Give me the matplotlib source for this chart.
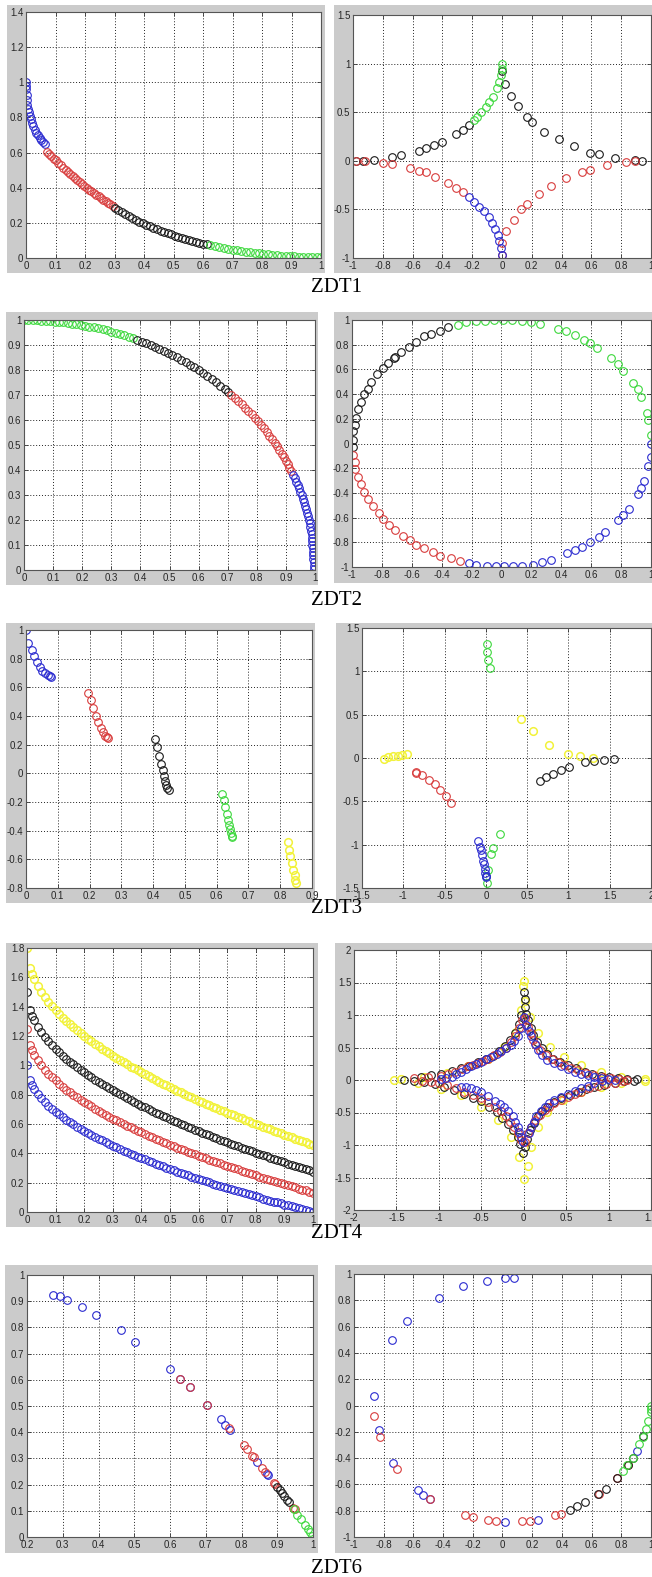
import matplotlib
matplotlib.use('Agg')
from matplotlib import pyplot as plt
from matplotlib.patches import Rectangle
from matplotlib.ticker import FixedLocator, FuncFormatter
import numpy as np

W, H = 652, 1577

BLUE = '#2b2bd0'
RED = '#d83c3c'
GREEN = '#3cd83c'
BLACK = '#1a1a1a'
YELLOW = '#f2f23a'
GRAY = '#cbcbcb'

# ---- ZDT1 ----
zdt1_l_blue_x = [0.0, 0.0, 0.001, 0.002, 0.003, 0.005, 0.007, 0.010, 0.013, 0.017, 0.021,
                 0.025, 0.030, 0.035, 0.040, 0.046, 0.052, 0.058, 0.064]
zdt1_l_blue_y = [1.0, 0.98, 0.96, 0.93, 0.90, 0.87, 0.85, 0.83, 0.81, 0.79, 0.77,
                 0.75, 0.73, 0.71, 0.70, 0.685, 0.67, 0.66, 0.65]
zdt1_l_red_x = [0.070, 0.078, 0.086, 0.094, 0.102, 0.110, 0.118, 0.126, 0.134, 0.142,
                0.150, 0.158, 0.166, 0.174, 0.182, 0.190, 0.198, 0.206, 0.214, 0.222,
                0.230, 0.238, 0.246, 0.254, 0.262, 0.270, 0.278, 0.286, 0.294]
zdt1_l_red_y = [0.605, 0.592, 0.578, 0.566, 0.555, 0.541, 0.528, 0.515, 0.502, 0.490,
                0.478, 0.466, 0.455, 0.443, 0.432, 0.421, 0.410, 0.400, 0.389, 0.379,
                0.369, 0.360, 0.350, 0.341, 0.332, 0.323, 0.315, 0.306, 0.298]
zdt1_l_black_x = [0.300, 0.312, 0.324, 0.336, 0.348, 0.360, 0.372, 0.384, 0.396, 0.408,
                  0.420, 0.432, 0.444, 0.456, 0.468, 0.480, 0.492, 0.504, 0.516, 0.528,
                  0.540, 0.552, 0.564, 0.576, 0.588, 0.600, 0.612]
zdt1_l_black_y = [0.285, 0.272, 0.260, 0.249, 0.238, 0.227, 0.217, 0.207, 0.198, 0.189,
                  0.180, 0.172, 0.164, 0.156, 0.148, 0.141, 0.134, 0.127, 0.121, 0.114,
                  0.108, 0.102, 0.097, 0.091, 0.086, 0.081, 0.077]
zdt1_l_green_x = [0.625, 0.640, 0.655, 0.670, 0.685, 0.700, 0.715, 0.730, 0.745, 0.760,
                  0.775, 0.790, 0.805, 0.820, 0.835, 0.850, 0.865, 0.880, 0.895, 0.910,
                  0.925, 0.940, 0.955, 0.970, 0.985, 1.0]
zdt1_l_green_y = [0.073, 0.068, 0.063, 0.058, 0.053, 0.048, 0.044, 0.040, 0.036, 0.033,
                  0.029, 0.026, 0.023, 0.021, 0.018, 0.016, 0.014, 0.012, 0.011, 0.009,
                  0.008, 0.007, 0.006, 0.005, 0.004, 0.004]

zdt1_r_black_x = [-0.98, -0.93, -0.86, -0.74, -0.68, -0.56, -0.51, -0.455, -0.40, -0.31,
                  -0.26, -0.22, 0.0, 0.02, 0.06, 0.11, 0.17, 0.20, 0.285, 0.38, 0.48,
                  0.59, 0.65, 0.76, 0.89, 0.94]
zdt1_r_black_y = [0.0, 0.0, 0.01, 0.04, 0.06, 0.10, 0.13, 0.16, 0.195, 0.28,
                  0.32, 0.37, 0.92, 0.79, 0.67, 0.56, 0.45, 0.40, 0.30, 0.22, 0.15,
                  0.085, 0.065, 0.03, 0.005, 0.0]
zdt1_r_red_x = [-0.98, -0.92, -0.80, -0.74, -0.62, -0.56, -0.51, -0.45, -0.36, -0.31,
                -0.265, 0.0, 0.03, 0.08, 0.13, 0.17, 0.245, 0.33, 0.43, 0.535, 0.59,
                0.705, 0.83, 0.89, 0.0]
zdt1_r_red_y = [0.0, 0.0, -0.02, -0.03, -0.07, -0.10, -0.12, -0.165, -0.23, -0.28,
                -0.32, -0.845, -0.725, -0.61, -0.495, -0.44, -0.345, -0.255, -0.175,
                -0.115, -0.09, -0.04, -0.015, 0.0, -0.97]
zdt1_r_green_x = [-0.19, -0.17, -0.14, -0.11, -0.085, -0.06, -0.035, -0.02, -0.01, 0.0, 0.0]
zdt1_r_green_y = [0.42, 0.45, 0.505, 0.55, 0.61, 0.66, 0.745, 0.815, 0.88, 0.94, 1.0]
zdt1_r_blue_x = [-0.22, -0.19, -0.155, -0.12, -0.09, -0.065, -0.045, -0.03, -0.02, -0.007, 0.0]
zdt1_r_blue_y = [-0.37, -0.42, -0.475, -0.52, -0.58, -0.64, -0.70, -0.76, -0.83, -0.90, -0.97]

# ---- ZDT2 ----
zdt2_l_green_x = [0.0, 0.015, 0.03, 0.045, 0.06, 0.075, 0.09, 0.105, 0.12, 0.135, 0.15,
                  0.165, 0.18, 0.195, 0.21, 0.225, 0.24, 0.255, 0.27, 0.285, 0.30, 0.315,
                  0.33, 0.345, 0.36, 0.375]
zdt2_l_green_y = [1.0, 1.0, 1.0, 0.999, 0.998, 0.997, 0.996, 0.994, 0.993, 0.991, 0.989,
                  0.986, 0.984, 0.981, 0.978, 0.974, 0.971, 0.967, 0.963, 0.959, 0.954,
                  0.949, 0.944, 0.939, 0.933, 0.927]
zdt2_l_black_x = [0.39, 0.405, 0.42, 0.435, 0.45, 0.465, 0.48, 0.495, 0.51, 0.525, 0.54,
                  0.555, 0.57, 0.585, 0.60, 0.615, 0.63, 0.645, 0.66, 0.675, 0.69, 0.70]
zdt2_l_black_y = [0.921, 0.914, 0.908, 0.900, 0.893, 0.885, 0.877, 0.869, 0.860, 0.851,
                  0.842, 0.832, 0.822, 0.811, 0.800, 0.789, 0.777, 0.764, 0.751, 0.738,
                  0.724, 0.714]
zdt2_l_red_x = [0.712, 0.724, 0.736, 0.748, 0.760, 0.771, 0.782, 0.793, 0.804, 0.814,
                0.824, 0.834, 0.843, 0.852, 0.861, 0.869, 0.877, 0.885, 0.892, 0.899,
                0.906, 0.912, 0.918]
zdt2_l_red_y = [0.702, 0.690, 0.677, 0.664, 0.650, 0.637, 0.623, 0.609, 0.595, 0.581,
                0.567, 0.552, 0.538, 0.523, 0.509, 0.495, 0.480, 0.466, 0.452, 0.438,
                0.423, 0.410, 0.396]
zdt2_l_blue_x = [0.924, 0.930, 0.935, 0.940, 0.945, 0.950, 0.954, 0.959, 0.963, 0.966,
                 0.970, 0.973, 0.976, 0.979, 0.982, 0.984, 0.986, 0.988, 0.989, 0.990,
                 0.991, 0.992, 0.993, 0.994, 0.994, 0.995, 0.995, 0.995]
zdt2_l_blue_y = [0.382, 0.368, 0.354, 0.340, 0.327, 0.313, 0.299, 0.285, 0.271, 0.257,
                 0.243, 0.229, 0.215, 0.201, 0.187, 0.172, 0.158, 0.144, 0.130, 0.116,
                 0.102, 0.088, 0.074, 0.060, 0.046, 0.032, 0.018, 0.004]

zdt2_r_black_x = [-0.995, -0.993, -0.99, -0.98, -0.97, -0.96, -0.94, -0.92, -0.89, -0.87,
                  -0.83, -0.79, -0.76, -0.72, -0.71, -0.67, -0.62, -0.57, -0.52, -0.47,
                  -0.41, -0.36]
zdt2_r_black_y = [-0.03, 0.03, 0.10, 0.15, 0.21, 0.28, 0.34, 0.40, 0.44, 0.50,
                  0.56, 0.61, 0.65, 0.69, 0.70, 0.74, 0.78, 0.82, 0.87, 0.89,
                  0.91, 0.94]
zdt2_r_green_x = [-0.29, -0.24, -0.17, -0.11, -0.05, 0.01, 0.07, 0.14, 0.20, 0.26, 0.38,
                  0.43, 0.49, 0.55, 0.59, 0.64, 0.73, 0.78, 0.81, 0.88, 0.91, 0.93,
                  0.97, 0.98, 1.0]
zdt2_r_green_y = [0.96, 0.98, 0.99, 0.99, 1.0, 1.0, 1.0, 0.99, 0.98, 0.97, 0.93,
                  0.91, 0.88, 0.84, 0.81, 0.77, 0.69, 0.64, 0.59, 0.49, 0.44, 0.38,
                  0.25, 0.19, 0.07]
zdt2_r_blue_x = [1.0, 1.0, 0.98, 0.95, 0.93, 0.91, 0.85, 0.81, 0.78, 0.69, 0.65, 0.59,
                 0.54, 0.49, 0.44, 0.33, 0.27, 0.21, 0.14, 0.08, 0.02, -0.04, -0.10,
                 -0.17, -0.22]
zdt2_r_blue_y = [0.0, -0.11, -0.18, -0.30, -0.36, -0.41, -0.53, -0.58, -0.62, -0.72,
                 -0.76, -0.80, -0.84, -0.86, -0.89, -0.94, -0.96, -0.98, -0.99, -0.99,
                 -0.99, -0.99, -0.99, -0.98, -0.97]
zdt2_r_red_x = [-0.28, -0.34, -0.41, -0.46, -0.52, -0.57, -0.61, -0.66, -0.71, -0.75,
                -0.79, -0.82, -0.86, -0.89, -0.92, -0.94, -0.96, -0.98, -0.98, -0.99]
zdt2_r_red_y = [-0.95, -0.93, -0.91, -0.88, -0.85, -0.82, -0.78, -0.75, -0.70, -0.66,
                -0.61, -0.56, -0.51, -0.45, -0.39, -0.33, -0.27, -0.21, -0.15, -0.09]

# ---- ZDT3 ----
zdt3_l_blue_x = [0.0, 0.007, 0.018, 0.026, 0.036, 0.044, 0.051, 0.060, 0.068, 0.076, 0.079]
zdt3_l_blue_y = [1.0, 0.908, 0.862, 0.82, 0.78, 0.745, 0.717, 0.70, 0.687, 0.676, 0.671]
zdt3_l_red_x = [0.196, 0.204, 0.212, 0.221, 0.228, 0.235, 0.242, 0.249, 0.254, 0.259]
zdt3_l_red_y = [0.56, 0.509, 0.455, 0.402, 0.355, 0.316, 0.286, 0.262, 0.251, 0.246]
zdt3_l_black_x = [0.407, 0.412, 0.418, 0.424, 0.43, 0.433, 0.437, 0.44, 0.445, 0.45]
zdt3_l_black_y = [0.239, 0.183, 0.123, 0.067, 0.021, -0.021, -0.056, -0.079, -0.102, -0.114]
zdt3_l_green_x = [0.617, 0.622, 0.627, 0.631, 0.635, 0.639, 0.642, 0.645, 0.648, 0.649]
zdt3_l_green_y = [-0.142, -0.188, -0.235, -0.281, -0.323, -0.358, -0.388, -0.416, -0.434, -0.444]
zdt3_l_yellow_x = [0.824, 0.828, 0.832, 0.836, 0.84, 0.845, 0.848, 0.85]
zdt3_l_yellow_y = [-0.481, -0.532, -0.578, -0.625, -0.672, -0.706, -0.741, -0.765]

zdt3_r_green_x = [0.01, 0.016, 0.03, 0.05, 0.17, 0.09, 0.06, 0.03, 0.0, 0.01]
zdt3_r_green_y = [1.32, 1.22, 1.13, 1.04, -0.88, -1.04, -1.11, -1.29, -1.36, -1.44]
zdt3_r_blue_x = [-0.10, -0.07, -0.06, -0.045, -0.03, -0.025, -0.016, -0.01, -0.004, 0.0]
zdt3_r_blue_y = [-0.96, -1.03, -1.06, -1.12, -1.19, -1.22, -1.28, -1.33, -1.36, -1.37]
zdt3_r_red_x = [-0.85, -0.85, -0.77, -0.69, -0.62, -0.56, -0.48, -0.42]
zdt3_r_red_y = [-0.16, -0.17, -0.20, -0.25, -0.30, -0.37, -0.44, -0.52]
zdt3_r_yellow_x = [-1.23, -1.18, -1.12, -1.06, -1.01, -0.96, 0.43, 0.57, 0.77, 1.0, 1.14, 1.30]
zdt3_r_yellow_y = [-0.01, 0.01, 0.02, 0.02, 0.04, 0.05, 0.45, 0.31, 0.15, 0.05, 0.02, 0.0]
zdt3_r_black_x = [0.65, 0.73, 0.81, 0.91, 1.01, 1.20, 1.31, 1.43, 1.55]
zdt3_r_black_y = [-0.27, -0.22, -0.18, -0.14, -0.10, -0.05, -0.03, -0.02, -0.01]

# ---- ZDT4 ----
zdt4_l_x = [0.0, 0.01, 0.0175, 0.025, 0.0375, 0.05, 0.0625, 0.075, 0.0875, 0.1, 0.1125,
            0.125, 0.1375, 0.15, 0.1625, 0.175, 0.1875, 0.2, 0.2125, 0.225, 0.2375,
            0.25, 0.2625, 0.275, 0.2875, 0.3, 0.3125, 0.325, 0.3375, 0.35, 0.3625,
            0.375, 0.3875, 0.4, 0.4125, 0.425, 0.4375, 0.45, 0.4625, 0.475, 0.4875,
            0.5, 0.5125, 0.525, 0.5375, 0.55, 0.5625, 0.575, 0.5875, 0.6, 0.6125,
            0.625, 0.6375, 0.65, 0.6625, 0.675, 0.6875, 0.7, 0.7125, 0.725, 0.7375,
            0.75, 0.7625, 0.775, 0.7875, 0.8, 0.8125, 0.825, 0.8375, 0.85, 0.8625,
            0.875, 0.8875, 0.9, 0.9125, 0.925, 0.9375, 0.95, 0.9625, 0.975, 0.9875, 1.0]
zdt4_l_blue_y = [1.0, 0.90, 0.868, 0.842, 0.806, 0.776, 0.75, 0.726, 0.704, 0.684, 0.665,
                 0.646, 0.629, 0.613, 0.597, 0.582, 0.567, 0.553, 0.539, 0.526, 0.513,
                 0.50, 0.488, 0.476, 0.464, 0.452, 0.441, 0.430, 0.419, 0.408, 0.398,
                 0.388, 0.378, 0.368, 0.358, 0.348, 0.339, 0.329, 0.320, 0.311, 0.302,
                 0.293, 0.284, 0.275, 0.267, 0.258, 0.25, 0.242, 0.234, 0.225, 0.217,
                 0.209, 0.202, 0.194, 0.186, 0.178, 0.171, 0.163, 0.156, 0.149, 0.141,
                 0.134, 0.127, 0.120, 0.113, 0.106, 0.099, 0.092, 0.085, 0.078, 0.071,
                 0.065, 0.058, 0.051, 0.045, 0.038, 0.032, 0.025, 0.019, 0.013, 0.006, 0.0]
zdt4_l_red_y = [1.25, 1.138, 1.102, 1.073, 1.034, 1.0, 0.971, 0.944, 0.919, 0.897, 0.875,
                0.854, 0.835, 0.817, 0.799, 0.783, 0.766, 0.750, 0.735, 0.720, 0.705,
                0.691, 0.677, 0.664, 0.651, 0.637, 0.625, 0.613, 0.601, 0.588, 0.577,
                0.566, 0.554, 0.543, 0.532, 0.521, 0.511, 0.500, 0.490, 0.480, 0.469,
                0.460, 0.450, 0.439, 0.430, 0.420, 0.412, 0.403, 0.393, 0.384, 0.375,
                0.366, 0.357, 0.349, 0.340, 0.331, 0.323, 0.314, 0.306, 0.299, 0.290,
                0.282, 0.274, 0.266, 0.258, 0.251, 0.242, 0.235, 0.227, 0.219, 0.212,
                0.205, 0.197, 0.189, 0.182, 0.174, 0.168, 0.160, 0.153, 0.147, 0.139, 0.132]
zdt4_l_black_y = [1.5, 1.378, 1.338, 1.306, 1.263, 1.226, 1.194, 1.164, 1.138, 1.113,
                  1.089, 1.066, 1.046, 1.026, 1.006, 0.988, 0.970, 0.953, 0.935, 0.919,
                  0.903, 0.888, 0.873, 0.858, 0.843, 0.829, 0.815, 0.802, 0.789, 0.775,
                  0.763, 0.750, 0.738, 0.726, 0.713, 0.701, 0.690, 0.678, 0.667, 0.656,
                  0.645, 0.634, 0.623, 0.612, 0.602, 0.591, 0.581, 0.572, 0.561, 0.551,
                  0.542, 0.531, 0.522, 0.513, 0.503, 0.493, 0.485, 0.475, 0.466, 0.458,
                  0.448, 0.439, 0.431, 0.422, 0.413, 0.405, 0.396, 0.388, 0.379, 0.371,
                  0.363, 0.355, 0.346, 0.338, 0.330, 0.322, 0.314, 0.306, 0.298, 0.291,
                  0.283, 0.275]
zdt4_l_yellow_y = [1.8, 1.666, 1.623, 1.588, 1.540, 1.5, 1.465, 1.432, 1.403, 1.376,
                   1.350, 1.325, 1.303, 1.281, 1.259, 1.239, 1.219, 1.2, 1.182, 1.164,
                   1.146, 1.129, 1.113, 1.097, 1.081, 1.065, 1.05, 1.035, 1.021, 1.006,
                   0.992, 0.979, 0.965, 0.952, 0.938, 0.925, 0.913, 0.9, 0.888, 0.876,
                   0.863, 0.851, 0.840, 0.827, 0.817, 0.805, 0.794, 0.783, 0.772, 0.76,
                   0.750, 0.739, 0.729, 0.719, 0.708, 0.697, 0.688, 0.677, 0.668, 0.658,
                   0.648, 0.638, 0.629, 0.619, 0.609, 0.601, 0.591, 0.582, 0.572, 0.563,
                   0.554, 0.546, 0.536, 0.527, 0.519, 0.509, 0.501, 0.492, 0.484, 0.476,
                   0.467, 0.458]

zdt4_r_yellow_x = [0.0, 0.02, 0.07, 0.17, 0.31, 0.48, 0.68, 0.91, 1.15, 1.43,
                   -1.53, -1.25, -0.98, -0.74, -0.50, -0.30, -0.15, -0.05, 0.0,
                   -1.45, -1.18, -0.90, -0.66, -0.42, -0.23, -0.09, -0.03, -0.01,
                   0.05, 0.09, 0.17, 0.28, 0.46, 0.68, 0.91, 1.15, 1.43, 1.57]
zdt4_r_yellow_y = [1.52, 1.22, 0.97, 0.72, 0.51, 0.36, 0.23, 0.12, 0.04, 0.01,
                   0.0, -0.04, -0.14, -0.23, -0.41, -0.62, -0.87, -1.18, -1.52,
                   0.01, 0.05, 0.11, 0.21, 0.33, 0.51, 0.74, 1.08, 1.44,
                   -1.33, -1.03, -0.72, -0.49, -0.31, -0.19, -0.10, -0.04, -0.02, 0.0]
# black star, arm by arm: upper right, lower left, lower right, upper left
zdt4_r_black_x = [0.0, 0.01, 0.02, 0.03, 0.05, 0.08, 0.11, 0.16, 0.21, 0.28, 0.35, 0.43,
                  0.52, 0.62, 0.72, 0.81, 0.91, 1.01, 1.11, 1.22, 1.33,
                  -1.41, -1.29, -1.17, -1.05, -0.94, -0.82, -0.70, -0.60, -0.50, -0.41,
                  -0.32, -0.25, -0.19, -0.13, -0.07, -0.04, -0.01,
                  0.02, 0.04, 0.07, 0.12, 0.17, 0.22, 0.28, 0.36, 0.44, 0.54, 0.64,
                  0.73, 0.83, 0.95, 1.07, 1.18, 1.30,
                  -1.21, -1.09, -0.97, -0.85, -0.74, -0.64, -0.54, -0.45, -0.36, -0.29,
                  -0.22, -0.16, -0.10, -0.06, -0.03]
zdt4_r_black_y = [1.36, 1.24, 1.13, 1.02, 0.92, 0.80, 0.69, 0.58, 0.49, 0.40, 0.33, 0.27,
                  0.23, 0.18, 0.13, 0.09, 0.06, 0.04, 0.03, 0.02, 0.01,
                  0.0, -0.01, -0.03, -0.06, -0.10, -0.15, -0.21, -0.27, -0.33, -0.41,
                  -0.49, -0.58, -0.67, -0.77, -0.87, -0.99, -1.12,
                  -1.03, -0.90, -0.77, -0.66, -0.56, -0.48, -0.41, -0.34, -0.28, -0.23,
                  -0.18, -0.14, -0.10, -0.07, -0.04, -0.02, -0.01,
                  0.05, 0.07, 0.10, 0.14, 0.18, 0.22, 0.27, 0.32, 0.37, 0.44,
                  0.52, 0.62, 0.72, 0.86, 1.0]
zdt4_r_red_x = [-1.29, -1.13, -0.97, -0.89, -0.81, -0.73, -0.66, -0.60, -0.54, -0.48,
                -0.42, -0.35, -0.28, -0.21, -0.15, -0.10, -0.05, -0.02,
                0.02, 0.05, 0.08, 0.11, 0.15, 0.19, 0.26, 0.33, 0.40, 0.48, 0.56,
                0.64, 0.73, 0.83, 0.93, 1.03, 1.12, 1.22,
                -1.20, -1.09, -1.0, -0.90, -0.80, -0.70, -0.60, -0.50, -0.42, -0.34,
                -0.27, -0.21, -0.16, -0.11, -0.07, -0.03,
                0.02, 0.05, 0.09, 0.13, 0.19, 0.25, 0.30, 0.36, 0.44, 0.52, 0.60,
                0.68, 0.77, 0.87, 0.97, 1.07, 1.17]
zdt4_r_red_y = [0.03, 0.04, 0.06, 0.09, 0.13, 0.17, 0.21, 0.23, 0.26, 0.29,
                0.33, 0.38, 0.43, 0.50, 0.58, 0.68, 0.80, 0.92,
                0.95, 0.82, 0.72, 0.62, 0.54, 0.46, 0.39, 0.33, 0.28, 0.23, 0.19,
                0.15, 0.11, 0.08, 0.05, 0.03, 0.02, 0.0,
                -0.01, -0.03, -0.05, -0.08, -0.13, -0.18, -0.23, -0.28, -0.34, -0.41,
                -0.48, -0.56, -0.64, -0.72, -0.82, -0.92,
                -0.95, -0.82, -0.72, -0.62, -0.54, -0.46, -0.41, -0.36, -0.31, -0.26,
                -0.22, -0.18, -0.13, -0.09, -0.06, -0.04, -0.02]
zdt4_r_blue_x = [0.0, -0.03, -0.07, -0.11, -0.15, -0.21, -0.27, -0.32, -0.38, -0.44,
                 -0.50, -0.56, -0.62, -0.68, -0.74, -0.80, -0.85, -0.91, -0.97,
                 0.03, 0.06, 0.09, 0.13, 0.17, 0.22, 0.28, 0.36, 0.44, 0.52, 0.60,
                 0.68, 0.76, 0.83, 0.91, 0.99, 1.07,
                 -0.74, -0.68, -0.62, -0.56, -0.50, -0.42, -0.34, -0.28, -0.23, -0.18,
                 -0.13, -0.10, -0.07, -0.05, -0.03, -0.01,
                 0.06, 0.09, 0.12, 0.15, 0.20, 0.25, 0.30, 0.36, 0.44, 0.52, 0.60,
                 0.68, 0.76, 0.83, 0.92]
zdt4_r_blue_y = [0.97, 0.80, 0.67, 0.60, 0.54, 0.49, 0.44, 0.40, 0.36, 0.32,
                 0.28, 0.25, 0.21, 0.17, 0.13, 0.09, 0.05, 0.03, 0.01,
                 0.85, 0.76, 0.67, 0.56, 0.46, 0.38, 0.31, 0.26, 0.21, 0.17, 0.13,
                 0.10, 0.08, 0.05, 0.03, 0.01, 0.0,
                 -0.10, -0.11, -0.13, -0.15, -0.18, -0.25, -0.33, -0.37, -0.41, -0.48,
                 -0.56, -0.64, -0.72, -0.80, -0.87, -0.95,
                 -0.82, -0.72, -0.64, -0.56, -0.48, -0.41, -0.36, -0.31, -0.26, -0.21,
                 -0.17, -0.13, -0.09, -0.05, -0.02]

# ---- ZDT6 ----
zdt6_l_blue_x = [0.274, 0.291, 0.312, 0.353, 0.393, 0.463, 0.502, 0.60, 0.629, 0.656,
                 0.703, 0.742, 0.755, 0.767, 0.842, 0.870, 0.875]
zdt6_l_blue_y = [0.925, 0.921, 0.906, 0.876, 0.847, 0.789, 0.745, 0.643, 0.603, 0.571,
                 0.505, 0.449, 0.429, 0.408, 0.287, 0.239, 0.235]
zdt6_l_red_x = [0.629, 0.656, 0.703, 0.764, 0.807, 0.814, 0.83, 0.834, 0.858, 0.867,
                0.89, 0.893, 0.944, 0.949]
zdt6_l_red_y = [0.603, 0.571, 0.505, 0.415, 0.35, 0.337, 0.311, 0.306, 0.264, 0.247,
                0.207, 0.203, 0.111, 0.105]
zdt6_l_black_x = [0.90, 0.907, 0.913, 0.919, 0.927, 0.934]
zdt6_l_black_y = [0.191, 0.179, 0.168, 0.158, 0.14, 0.133]
zdt6_l_green_x = [0.946, 0.956, 0.967, 0.977, 0.986, 0.993, 0.998]
zdt6_l_green_y = [0.105, 0.085, 0.07, 0.047, 0.031, 0.018, 0.005]

zdt6_r_blue_x = [-0.867, -0.835, -0.745, -0.736, -0.646, -0.568, -0.532, -0.489, -0.43,
                 -0.268, -0.106, 0.014, 0.077, 0.018, 0.239, 0.903]
zdt6_r_blue_y = [0.076, -0.19, 0.498, -0.437, 0.643, -0.645, -0.678, -0.712, 0.821,
                 0.905, 0.948, 0.966, 0.966, -0.887, -0.869, -0.346]
zdt6_r_red_x = [-0.865, -0.827, -0.712, -0.489, -0.25, -0.196, -0.095, -0.041, 0.133,
                0.182, 0.351, 0.396, 0.649, 0.773, 0.842]
zdt6_r_red_y = [-0.081, -0.239, -0.483, -0.712, -0.836, -0.851, -0.874, -0.882, -0.882,
                -0.882, -0.836, -0.823, -0.673, -0.551, -0.45]
zdt6_r_black_x = [0.453, 0.505, 0.556, 0.644, 0.694, 0.768, 0.847, 0.881, 0.948]
zdt6_r_black_y = [-0.798, -0.767, -0.737, -0.671, -0.635, -0.551, -0.45, -0.399, -0.234]
zdt6_r_green_x = [0.809, 0.84, 0.876, 0.921, 0.948, 0.966, 0.982, 0.998, 1.0, 1.0]
zdt6_r_green_y = [-0.50, -0.45, -0.399, -0.29, -0.239, -0.178, -0.119, -0.051, -0.025, 0.0]


fig = plt.figure(figsize=(W / 100, H / 100), dpi=100, facecolor='white')


def fmt(v, pos):
    return '%g' % (round(v, 6) + 0.0)


def panel(axbox, frame, xlim, xstep, ylim, ystep, series):
    # frame / axbox given as (left, right, top, bottom) in pixels
    fl, fr, ft, fb = frame
    fig.add_artist(Rectangle((fl / W, 1 - fb / H), (fr - fl) / W, (fb - ft) / H,
                             transform=fig.transFigure, facecolor=GRAY,
                             edgecolor='none', zorder=-5))
    l, r, t, b = axbox
    ax = fig.add_axes([l / W, 1 - b / H, (r - l) / W, (b - t) / H])
    for xs, ys, c in series:
        ax.plot(xs, ys, 'o', mfc='none', mec=c, ms=5.5,
                mew=1.1 if c == YELLOW else 0.8)
    ax.set_xlim(xlim)
    ax.set_ylim(ylim)
    ax.xaxis.set_major_locator(FixedLocator(np.arange(xlim[0], xlim[1] + xstep / 2, xstep)))
    ax.yaxis.set_major_locator(FixedLocator(np.arange(ylim[0], ylim[1] + ystep / 2, ystep)))
    ax.xaxis.set_major_formatter(FuncFormatter(fmt))
    ax.yaxis.set_major_formatter(FuncFormatter(fmt))
    ax.grid(True, color='#222222', linestyle=(0, (1, 2)), linewidth=0.7)
    ax.set_axisbelow(True)
    ax.tick_params(direction='in', length=3, width=0.6, top=True, right=True,
                   labelsize=7, labelcolor='#262626', pad=2, color='#333333')
    for lab in ax.get_xticklabels() + ax.get_yticklabels():
        lab.set_family('Liberation Sans')
    for s in ax.spines.values():
        s.set_color('#555555')
        s.set_linewidth(0.8)
    return ax


panel((26, 321, 12, 258), (7, 325, 5, 273), (0, 1), 0.1, (0, 1.4), 0.2,
      [(zdt1_l_blue_x, zdt1_l_blue_y, BLUE), (zdt1_l_red_x, zdt1_l_red_y, RED),
       (zdt1_l_black_x, zdt1_l_black_y, BLACK), (zdt1_l_green_x, zdt1_l_green_y, GREEN)])
panel((353, 651, 15, 258), (334, 652, 5, 273), (-1, 1), 0.2, (-1, 1.5), 0.5,
      [(zdt1_r_black_x, zdt1_r_black_y, BLACK), (zdt1_r_red_x, zdt1_r_red_y, RED),
       (zdt1_r_green_x, zdt1_r_green_y, GREEN), (zdt1_r_blue_x, zdt1_r_blue_y, BLUE)])

panel((24, 315, 320, 570), (6, 318, 312, 585), (0, 1), 0.1, (0, 1), 0.1,
      [(zdt2_l_green_x, zdt2_l_green_y, GREEN), (zdt2_l_black_x, zdt2_l_black_y, BLACK),
       (zdt2_l_red_x, zdt2_l_red_y, RED), (zdt2_l_blue_x, zdt2_l_blue_y, BLUE)])
panel((352, 651, 320, 567), (334, 652, 312, 583), (-1, 1), 0.2, (-1, 1), 0.2,
      [(zdt2_r_black_x, zdt2_r_black_y, BLACK), (zdt2_r_green_x, zdt2_r_green_y, GREEN),
       (zdt2_r_blue_x, zdt2_r_blue_y, BLUE), (zdt2_r_red_x, zdt2_r_red_y, RED)])

panel((26, 312, 630, 888), (6, 315, 623, 903), (0, 0.9), 0.1, (-0.8, 1), 0.2,
      [(zdt3_l_blue_x, zdt3_l_blue_y, BLUE), (zdt3_l_red_x, zdt3_l_red_y, RED),
       (zdt3_l_black_x, zdt3_l_black_y, BLACK), (zdt3_l_green_x, zdt3_l_green_y, GREEN),
       (zdt3_l_yellow_x, zdt3_l_yellow_y, YELLOW)])
panel((362, 651, 628, 888), (336, 652, 623, 903), (-1.5, 2), 0.5, (-1.5, 1.5), 0.5,
      [(zdt3_r_yellow_x, zdt3_r_yellow_y, YELLOW), (zdt3_r_green_x, zdt3_r_green_y, GREEN),
       (zdt3_r_blue_x, zdt3_r_blue_y, BLUE), (zdt3_r_red_x, zdt3_r_red_y, RED),
       (zdt3_r_black_x, zdt3_r_black_y, BLACK)])

panel((27, 313, 948, 1212), (6, 318, 943, 1227), (0, 1), 0.1, (0, 1.8), 0.2,
      [(zdt4_l_x, zdt4_l_yellow_y, YELLOW), (zdt4_l_x, zdt4_l_black_y, BLACK),
       (zdt4_l_x, zdt4_l_red_y, RED), (zdt4_l_x, zdt4_l_blue_y, BLUE)])
panel((354, 651, 950, 1210), (335, 652, 943, 1227), (-2, 1.5), 0.5, (-2, 2), 0.5,
      [(zdt4_r_yellow_x, zdt4_r_yellow_y, YELLOW), (zdt4_r_black_x, zdt4_r_black_y, BLACK),
       (zdt4_r_red_x, zdt4_r_red_y, RED), (zdt4_r_blue_x, zdt4_r_blue_y, BLUE)])

panel((27, 313, 1275, 1537), (5, 318, 1265, 1553), (0.2, 1), 0.1, (0, 1), 0.1,
      [(zdt6_l_blue_x, zdt6_l_blue_y, BLUE), (zdt6_l_red_x, zdt6_l_red_y, RED),
       (zdt6_l_black_x, zdt6_l_black_y, BLACK), (zdt6_l_green_x, zdt6_l_green_y, GREEN)])
panel((354, 651, 1274, 1537), (335, 652, 1265, 1553), (-1, 1), 0.2, (-1, 1), 0.2,
      [(zdt6_r_blue_x, zdt6_r_blue_y, BLUE), (zdt6_r_red_x, zdt6_r_red_y, RED),
       (zdt6_r_black_x, zdt6_r_black_y, BLACK), (zdt6_r_green_x, zdt6_r_green_y, GREEN)])

# problem names under each row
for name, base in [('ZDT1', 292), ('ZDT2', 605), ('ZDT3', 913), ('ZDT4', 1238), ('ZDT6', 1573)]:
    fig.text(337 / W, 1 - base / H, name, ha='center', va='baseline',
             fontsize=15, family='Liberation Serif', color='black', zorder=10)

fig.savefig('out.png', dpi=100, facecolor='white')
